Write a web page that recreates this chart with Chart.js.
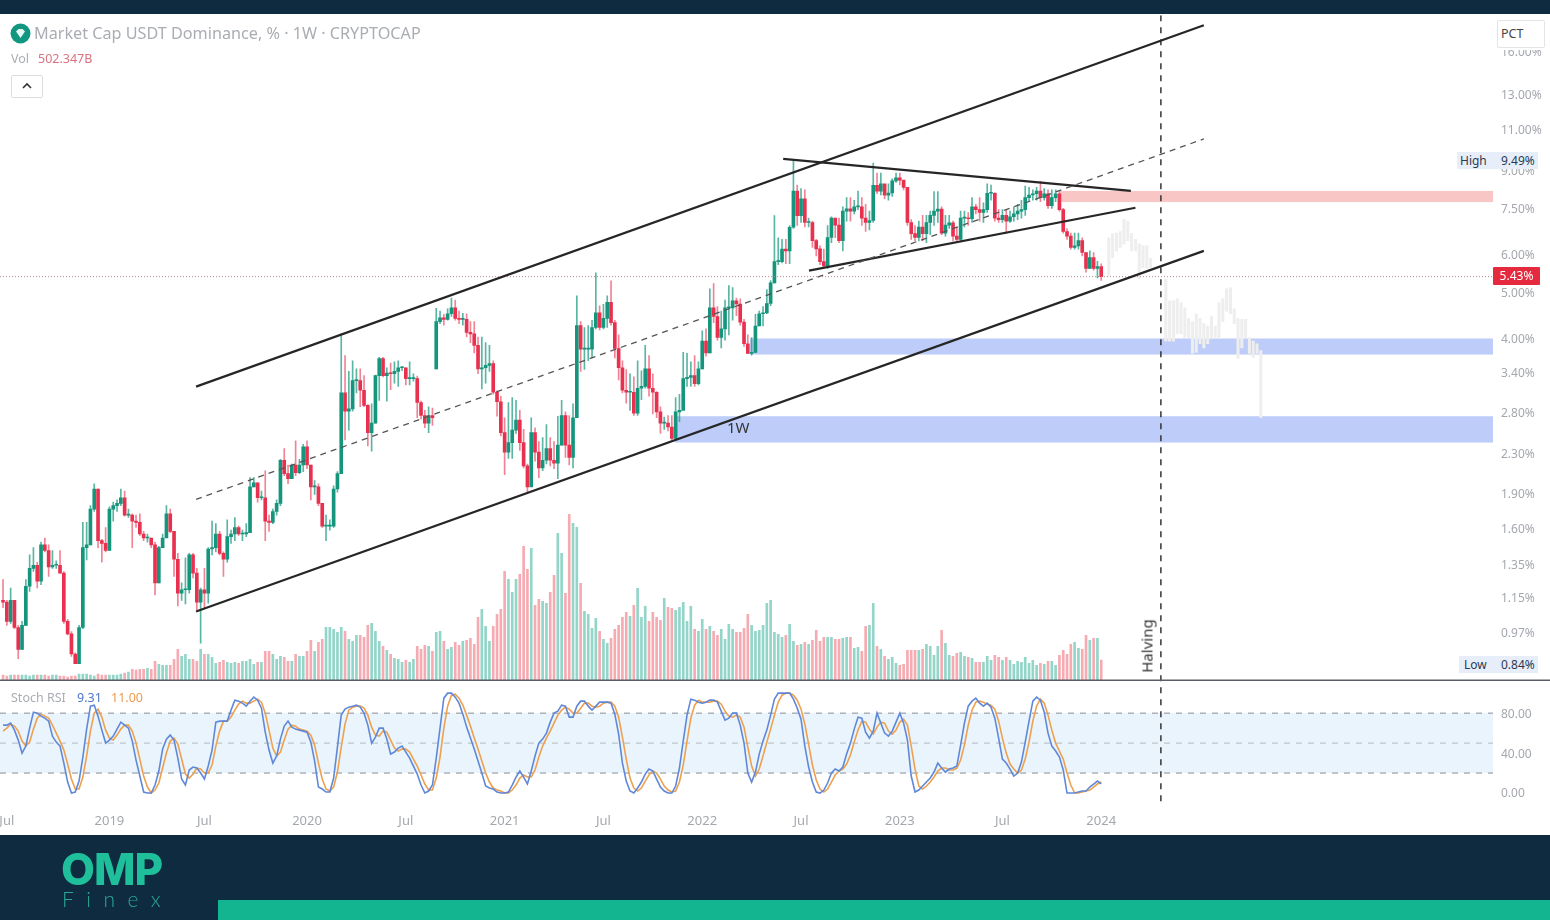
<!DOCTYPE html>
<html>
<head>
<meta charset="utf-8">
<title>Market Cap USDT Dominance</title>
<script src="https://cdn.jsdelivr.net/npm/chart.js@4/dist/chart.umd.min.js"></script>
<style>
    html, body { margin: 0; padding: 0; width: 1550px; height: 920px; overflow: hidden; background: #0f2b40; font-family: "Noto Sans", sans-serif; }
    #panel { position: absolute; left: 0; top: 14px; width: 1550px; height: 821px; background: #fff; }
    #chart { position: absolute; left: 0; top: 0; }
    .txt { position: absolute; white-space: nowrap; line-height: 1; }
    .badge { position: absolute; background: #e7eefa; color: #2b3a50; font-size: 12px; line-height: 17px; height: 17px; }
    .badge span { position: absolute; top: 0; }
</style>
</head>
<body>
<div id="panel"></div>
<canvas id="chart" width="1550" height="920"></canvas>

<!-- legenda -->
<svg style="position:absolute;left:10px;top:23px" width="21" height="21" viewBox="0 0 21 21">
    <circle cx="10.5" cy="10.5" r="10" fill="#11967f"/>
    <path d="M6 8.5 L8.5 6 H12.5 L15 8.5 L10.5 15 Z" fill="#e8f7f3"/>
</svg>
<div class="txt" style="left:34px;top:25px;font-size:16.2px;color:#a9adb3">Market Cap USDT Dominance, % · 1W · CRYPTOCAP</div>
<div class="txt" style="left:11px;top:53px;font-size:12.5px;color:#a9adb3">Vol</div>
<div class="txt" style="left:38px;top:53px;font-size:12.5px;color:#d9747f">502.347B</div>
<div style="position:absolute;left:11px;top:75px;width:30px;height:21px;border:1px solid #ddd;border-radius:2px;background:#fff">
    <svg width="30" height="21" viewBox="0 0 30 21"><path d="M11 12 L15 8 L19 12" fill="none" stroke="#333" stroke-width="1.6"/></svg>
</div>
<div class="txt" style="left:11px;top:692px;font-size:12.5px;color:#a9adb3">Stoch RSI</div>
<div class="txt" style="left:77px;top:692px;font-size:12.5px;color:#4f78c8">9.31</div>
<div class="txt" style="left:111px;top:692px;font-size:12.5px;color:#ee9c4c">11.00</div>

<!-- marcas -->
<div class="txt" style="left:727px;top:420px;font-size:15px;color:#333">1W</div>
<div class="txt" style="left:1147px;top:646px;font-size:15px;color:#333;transform:translate(-50%,-50%) rotate(-90deg)">Halving</div>

<!-- escala -->
<div style="position:absolute;left:1493px;top:14px;width:57px;height:36px;background:#fff"></div>
<div class="txt" style="left:1497px;top:20px;width:46px;height:26px;border:1px solid #e4e4e4;border-radius:2px;font-size:12.5px;line-height:26px;color:#444;text-indent:3px">PCT</div>
<div class="badge" style="left:1457px;top:152px;width:81px"><span style="left:3px">High</span><span style="left:44px">9.49%</span></div>
<div class="badge" style="left:1459px;top:656px;width:79px"><span style="left:5px">Low</span><span style="left:42px">0.84%</span></div>
<div class="txt" style="left:1493px;top:267px;width:47px;height:18px;background:#e5293f;color:#fff;font-size:12px;line-height:18px;text-align:center;border-radius:1px">5.43%</div>

<!-- logo -->
<div class="txt" style="left:61px;top:847px;font-family:Inter,sans-serif;font-weight:800;font-size:44px;letter-spacing:-1px;color:#1fbf9c">OMP</div>
<div class="txt" style="left:62px;top:888px;font-family:Lato,sans-serif;font-weight:300;font-size:21px;letter-spacing:12.5px;color:#2aa893">Finex</div>
<div style="position:absolute;left:218px;top:900px;width:1332px;height:20px;background:#12b58f"></div>

<script>
// Velas semanais, valores em %
const opens = [
    1.14,1.13,1.03,1.14,1.00,0.90,1.01,1.22,1.33,1.35,
    1.25,1.49,1.45,1.34,1.35,1.35,1.30,1.03,0.97,0.88,
    0.84,1.00,1.47,1.49,1.77,1.95,1.52,1.50,1.45,1.77,
    1.80,1.82,1.87,1.72,1.72,1.67,1.66,1.57,1.54,1.54,
    1.49,1.24,1.47,1.54,1.73,1.59,1.39,1.18,1.20,1.20,
    1.42,1.30,1.13,1.20,1.18,1.46,1.47,1.57,1.43,1.39,
    1.55,1.57,1.62,1.57,1.57,1.58,1.97,2.01,1.87,1.87,
    1.67,1.66,1.75,1.82,2.24,2.10,2.05,2.19,2.11,2.19,
    2.39,2.19,1.97,1.97,1.82,1.63,1.63,1.63,1.95,2.10,
    3.10,2.84,2.87,3.29,3.29,3.14,2.92,2.56,2.68,3.37,
    3.66,3.37,3.41,3.40,3.44,3.50,3.50,3.32,3.32,3.32,
    2.96,2.78,2.68,2.78,3.48,4.37,4.45,4.42,4.54,4.67,
    4.44,4.42,4.42,4.15,4.12,3.90,3.48,3.50,3.54,3.57,
    3.11,2.97,2.56,2.33,2.44,2.59,2.72,2.44,2.18,1.97,
    2.56,2.33,2.16,2.24,2.37,2.24,2.21,2.41,2.78,2.41,
    2.27,2.75,4.29,3.83,3.83,3.83,4.25,4.56,4.25,4.44,
    4.80,4.35,3.84,3.50,3.14,3.11,3.11,2.81,3.17,3.20,
    3.48,3.17,3.11,2.83,2.68,2.68,2.63,2.49,2.83,2.85,
    3.32,3.34,3.37,3.24,3.48,3.98,3.76,4.67,4.48,4.05,
    4.22,4.67,4.67,4.83,4.76,4.36,3.93,3.75,3.77,4.28,
    4.54,4.56,4.77,5.27,5.84,5.84,6.20,6.15,6.89,8.20,
    7.29,7.90,7.05,7.05,6.46,6.21,5.84,5.72,6.56,7.20,
    6.96,6.46,7.45,7.53,7.45,7.60,7.60,7.20,7.05,7.12,
    8.44,8.20,8.50,8.04,8.13,8.62,8.75,8.65,8.35,7.05,
    6.68,6.56,6.90,6.68,7.05,7.30,7.45,7.52,6.70,6.96,
    7.04,6.60,6.50,7.20,7.20,7.18,7.60,7.50,7.40,7.50,
    8.12,8.12,7.20,7.15,7.30,7.10,7.25,7.35,7.45,7.50,
    7.95,8.05,8.10,8.20,7.95,8.10,7.65,7.95,8.10,7.50,
    6.75,6.60,6.25,6.30,6.46,6.10,5.65,5.95,5.65,5.70
];
const highs = [
    1.26,1.14,1.21,1.14,1.01,1.03,1.26,1.42,1.47,1.37,
    1.51,1.54,1.49,1.45,1.38,1.45,1.31,1.04,0.98,0.885,
    1.01,1.66,1.66,1.80,2.00,1.95,1.53,1.62,1.79,1.83,
    1.85,1.95,1.93,1.77,1.73,1.72,1.73,1.59,1.57,1.54,
    1.51,1.48,1.57,1.80,1.77,1.59,1.43,1.24,1.40,1.43,
    1.43,1.33,1.21,1.33,1.47,1.67,1.65,1.59,1.44,1.68,
    1.60,1.70,1.63,1.60,1.65,2.06,2.06,2.01,1.93,2.13,
    1.72,1.77,1.85,2.25,2.37,2.19,2.20,2.46,2.25,2.42,
    2.46,2.19,2.03,2.00,1.82,1.72,1.68,1.98,2.12,4.12,
    3.71,3.44,3.62,3.48,3.48,3.37,2.93,2.94,3.38,3.68,
    3.68,3.50,3.58,3.60,3.62,3.52,3.50,3.60,3.40,3.36,
    2.98,2.85,2.90,2.88,4.66,4.60,4.53,4.65,4.90,4.85,
    4.60,4.55,4.54,4.37,4.37,4.06,4.06,3.95,3.90,3.62,
    3.13,3.05,2.75,2.96,3.03,2.99,2.85,2.60,2.20,2.75,
    2.62,2.45,2.50,2.66,2.50,2.45,2.77,2.99,2.83,2.78,
    2.94,4.95,4.37,4.25,4.29,4.40,5.53,4.72,4.75,4.95,
    5.32,4.40,4.10,3.62,3.47,3.40,3.35,3.62,3.45,3.90,
    3.71,3.40,3.12,2.90,2.76,2.78,2.78,3.03,3.08,3.77,
    3.75,3.60,3.71,3.60,4.18,4.22,5.12,5.25,4.70,4.60,
    4.85,5.20,5.15,4.90,4.88,4.42,4.10,4.05,4.53,4.60,
    4.70,5.10,5.33,7.29,6.55,6.50,6.50,6.95,9.49,8.45,
    8.30,8.25,7.20,7.10,6.50,6.30,6.20,6.95,7.25,7.20,
    7.20,7.60,7.95,7.95,7.85,8.20,7.95,7.70,7.45,9.39,
    8.95,8.95,8.40,8.50,8.70,8.95,8.95,8.55,8.35,7.15,
    6.95,7.10,7.30,7.30,7.45,8.18,8.18,7.60,7.30,7.30,
    7.10,6.90,7.45,7.45,7.40,7.95,7.70,7.95,7.75,8.50,
    8.45,8.15,7.50,7.50,7.50,7.45,7.60,7.70,7.85,8.40,
    8.35,8.25,8.35,8.60,8.30,8.25,8.25,8.25,8.20,7.55,
    6.85,6.70,6.70,6.70,6.55,6.10,6.15,6.10,5.85,5.78
];
const lows = [
    1.10,1.01,1.02,0.995,0.86,0.90,1.01,1.19,1.31,1.21,
    1.23,1.44,1.28,1.33,1.33,1.30,1.02,0.965,0.87,0.84,
    0.84,0.995,1.385,1.49,1.75,1.47,1.37,1.44,1.45,1.67,
    1.75,1.80,1.71,1.70,1.47,1.62,1.56,1.52,1.51,1.47,
    1.17,1.24,1.47,1.55,1.58,1.28,1.11,1.14,1.12,1.18,
    1.27,1.09,0.927,1.10,1.125,1.42,1.44,1.42,1.28,1.37,
    1.50,1.52,1.56,1.52,1.55,1.58,1.97,1.83,1.85,1.52,
    1.59,1.65,1.72,1.80,2.08,2.00,2.05,2.08,2.10,2.12,
    2.15,1.85,1.90,1.80,1.62,1.52,1.60,1.62,1.92,2.10,
    2.47,2.59,2.84,3.10,2.90,2.90,2.40,2.34,2.68,2.99,
    3.35,2.98,3.15,3.25,3.20,3.45,3.22,3.22,3.28,2.75,
    2.73,2.62,2.56,2.65,3.48,4.33,4.30,4.40,4.48,4.40,
    4.33,4.30,4.06,3.95,3.76,3.40,3.16,3.25,3.44,3.08,
    2.77,2.52,2.09,2.26,2.26,2.55,2.35,2.16,1.92,2.00,
    2.23,2.06,2.13,2.20,2.18,2.15,2.05,2.41,2.27,2.19,
    2.16,2.75,3.44,3.47,3.62,3.67,4.22,4.20,4.22,4.25,
    4.30,3.67,3.30,3.10,2.95,2.85,2.78,2.78,3.00,3.17,
    3.05,2.80,2.75,2.55,2.60,2.58,2.47,2.49,2.70,2.87,
    3.20,3.20,3.20,3.22,3.48,3.70,3.76,4.35,4.00,3.85,
    4.00,4.10,4.40,4.50,4.30,3.88,3.75,3.72,3.77,4.28,
    4.28,4.54,4.72,5.27,5.75,5.80,5.78,5.78,6.85,6.95,
    7.05,6.90,6.90,6.25,6.00,5.75,5.68,5.65,6.40,6.55,
    6.40,6.15,7.10,7.10,7.35,7.50,6.95,6.75,6.80,7.05,
    8.10,8.05,7.90,7.85,8.00,8.55,8.45,8.25,6.95,6.50,
    6.45,6.45,6.45,6.40,6.65,6.95,7.05,6.65,6.60,6.85,
    6.45,6.45,6.45,6.90,6.95,7.05,7.35,7.10,7.05,7.40,
    7.85,7.10,7.05,7.05,6.70,7.05,7.10,7.15,7.20,7.30,
    7.80,7.85,7.85,7.80,7.85,7.55,7.55,7.80,7.45,6.70,
    6.50,6.20,6.20,6.20,6.00,5.55,5.65,5.60,5.40,5.33
];
const closes = [
    1.13,1.03,1.14,1.00,0.90,1.01,1.22,1.33,1.35,1.25,
    1.49,1.45,1.34,1.35,1.35,1.30,1.03,0.97,0.88,0.84,
    1.00,1.47,1.49,1.77,1.95,1.52,1.50,1.45,1.77,1.80,
    1.82,1.87,1.72,1.72,1.67,1.66,1.57,1.54,1.54,1.49,
    1.24,1.47,1.54,1.73,1.59,1.39,1.18,1.20,1.20,1.42,
    1.30,1.13,1.20,1.18,1.46,1.47,1.57,1.43,1.39,1.55,
    1.57,1.62,1.57,1.57,1.58,1.97,2.01,1.87,1.87,1.67,
    1.66,1.75,1.82,2.24,2.10,2.05,2.19,2.11,2.19,2.39,
    2.19,1.97,1.97,1.82,1.63,1.63,1.63,1.95,2.10,3.10,
    2.84,2.87,3.29,3.29,3.14,2.92,2.56,2.68,3.37,3.66,
    3.37,3.41,3.40,3.44,3.50,3.50,3.32,3.32,3.32,2.96,
    2.78,2.68,2.78,2.75,4.37,4.45,4.42,4.54,4.67,4.44,
    4.42,4.42,4.15,4.12,3.90,3.48,3.50,3.54,3.57,3.11,
    2.97,2.56,2.33,2.44,2.59,2.72,2.44,2.18,1.97,2.56,
    2.33,2.16,2.24,2.37,2.24,2.21,2.41,2.78,2.41,2.27,
    2.75,4.29,3.83,3.83,3.83,4.25,4.56,4.25,4.44,4.80,
    4.35,3.84,3.50,3.14,3.11,3.11,2.81,3.17,3.20,3.48,
    3.17,3.11,2.83,2.68,2.68,2.63,2.49,2.83,2.85,3.32,
    3.34,3.37,3.24,3.48,3.98,3.76,4.67,4.48,4.05,4.22,
    4.67,4.67,4.83,4.76,4.36,3.93,3.75,3.77,4.28,4.54,
    4.56,4.77,5.27,5.84,5.84,6.20,6.15,6.89,8.20,7.29,
    7.90,7.05,7.05,6.46,6.21,5.84,5.72,6.56,7.20,6.96,
    6.46,7.45,7.53,7.45,7.60,7.60,7.20,7.05,7.12,8.44,
    8.20,8.50,8.04,8.13,8.62,8.75,8.65,8.35,7.05,6.68,
    6.56,6.90,6.68,7.05,7.30,7.45,7.52,6.70,6.96,7.04,
    6.60,6.50,7.20,7.20,7.18,7.60,7.50,7.40,7.50,8.12,
    8.12,7.20,7.15,7.30,7.10,7.25,7.35,7.45,7.50,7.95,
    8.05,8.10,8.20,7.95,8.10,7.65,7.95,8.10,7.50,6.75,
    6.60,6.25,6.30,6.46,6.10,5.65,5.95,5.65,5.70,5.43
];

// Volume em bilhões
const volumes = [
    125,100,125,125,125,125,125,100,125,125,
    125,125,100,125,125,100,100,75,100,100,
    150,150,150,125,100,150,125,125,125,125,
    125,150,175,200,275,250,275,275,300,275,
    475,400,375,375,375,525,775,600,650,525,
    525,475,775,650,650,575,425,450,500,450,
    425,450,425,475,475,525,400,450,450,725,
    725,650,525,600,575,475,475,650,600,600,
    725,1000,725,950,1025,1325,1325,1275,1200,1325,
    1225,1025,975,1125,1125,1075,1375,1425,1225,975,
    850,750,650,550,525,450,500,450,525,850,
    775,875,850,725,1200,1225,975,775,825,950,
    875,975,1000,1050,900,1575,1775,1350,975,1350,
    1650,1775,2725,2525,2200,2525,2650,3350,2775,3300,
    1875,2025,1975,1925,2200,2625,3675,3175,2175,4150,
    3925,3825,2425,1725,1650,1300,1550,1225,1025,925,
    1050,1275,1375,1575,1700,1600,1875,2300,1575,1850,
    1475,1700,1575,1500,2050,1825,1800,1750,1825,1950,
    1475,1850,1275,1225,1525,1275,1350,1225,1125,1275,
    1025,1400,1275,1200,1200,1300,1650,1375,1225,1250,
    1375,1925,2000,1200,1150,1075,1125,1400,975,875,
    900,950,900,1000,1250,975,1075,1075,1075,1025,
    1025,1050,1075,1075,800,825,725,1350,1375,1925,
    850,775,600,525,575,425,375,400,750,750,
    750,750,775,900,850,625,850,1250,925,625,
    600,675,700,600,575,550,450,450,450,600,
    500,625,575,500,575,500,400,475,450,575,
    425,500,375,425,400,475,475,375,625,750,
    650,900,950,800,775,1125,1000,1050,1050,502.347
];

// Stoch RSI
const stochK = [
    68,68,70,63,53,40,47,65,81,80,
    77,75,72,57,51,47,30,11,0,1,
    12,36,64,87,88,77,63,50,53,57,
    64,71,68,65,52,33,17,1,0,0,
    8,22,44,54,58,53,35,14,8,23,
    26,25,20,14,27,43,71,72,72,72,
    83,93,92,90,87,92,96,93,85,61,
    43,30,37,54,67,72,66,64,63,62,
    61,51,32,6,4,1,1,15,46,78,
    84,86,87,88,86,80,68,50,56,65,
    65,54,39,41,45,47,41,35,27,19,
    8,0,2,8,35,65,95,100,100,96,
    90,79,66,55,44,32,20,7,5,4,
    1,0,0,1,8,16,22,16,9,22,
    37,50,54,60,71,80,82,88,87,76,
    76,87,92,92,87,83,87,91,91,91,
    90,79,59,30,12,2,0,5,11,19,
    24,22,14,6,2,0,0,7,25,52,
    78,94,93,91,90,91,93,93,91,82,
    73,75,80,80,68,50,20,11,21,39,
    52,63,78,94,100,100,100,100,94,85,
    74,47,26,11,1,0,3,10,20,24,
    22,26,39,50,64,76,75,61,55,62,
    80,70,60,57,62,71,80,70,53,17,
    1,3,7,11,15,21,30,25,21,24,
    25,27,48,70,87,92,95,90,87,90,
    86,75,55,34,30,24,17,20,31,51,
    72,92,96,93,81,60,47,42,36,23,
    0,0,0,1,2,2,6,9,12,9.31
];
const stochD = [
    62,65,69,67,62,52,47,51,64,75,
    79,77,75,68,60,52,43,29,14,4,
    4,16,37,62,80,84,76,63,55,53,
    58,64,68,68,62,50,34,17,6,0,
    3,10,25,40,52,55,49,34,19,15,
    19,25,24,20,20,28,47,62,72,72,
    76,83,89,92,90,90,92,94,91,80,
    63,45,37,41,53,64,68,67,64,63,
    62,58,48,30,14,4,2,6,21,46,
    69,83,86,87,87,85,78,66,58,57,
    62,61,53,45,42,44,44,41,34,27,
    18,9,3,3,15,36,65,87,98,99,
    95,88,78,67,55,44,32,20,11,5,
    3,2,0,0,3,8,15,18,16,16,
    23,36,47,55,62,70,78,83,86,84,
    80,80,85,90,90,87,86,87,90,91,
    91,87,76,56,34,15,5,2,5,12,
    18,22,20,14,7,3,1,2,11,28,
    52,75,88,93,91,91,91,92,92,89,
    82,77,76,78,76,66,46,27,17,24,
    37,51,64,78,91,98,100,100,98,93,
    84,69,49,28,13,4,1,4,11,18,
    22,24,29,38,51,63,72,71,64,59,
    66,71,70,62,59,63,71,74,68,47,
    24,7,4,7,11,16,22,25,25,23,
    23,25,33,48,68,83,91,92,91,89,
    88,84,72,55,40,29,24,20,23,34,
    51,72,87,94,90,78,63,50,42,34,
    20,8,0,0,1,2,3,6,9,11.00
];

// Projeção apagada depois da última vela
const ghostWeeks = [291,292,293,294,295,296,297,298,299,300,301,302,306,307,308,309,310,311,312,313,314,315,316,317,318,319,320,321,322,323,324,325,326,327,328,329,330,331];
const ghostHighs = [6.55,6.68,6.70,6.75,7.17,7.10,6.68,6.50,6.36,6.30,6.30,5.93,5.37,4.83,4.83,4.88,4.79,4.67,4.44,4.37,4.54,4.44,4.33,4.28,4.48,4.28,4.79,4.88,5.12,5.15,4.65,4.44,4.42,4.42,4.05,3.98,3.93,3.80];
const ghostLows = [5.45,5.95,6.15,6.25,6.36,6.46,6.15,6.15,5.37,5.67,5.65,5.67,3.98,3.98,3.98,4.12,4.12,4.05,4.05,3.75,3.77,3.93,3.85,3.93,4.03,4.05,4.03,4.37,4.60,4.54,4.33,3.66,3.85,4.05,3.75,3.68,3.75,2.75];

// Eixos
const priceTicks = [16, 13, 11, 9, 7.5, 6, 5, 4, 3.4, 2.8, 2.3, 1.9, 1.6, 1.35, 1.15, 0.97];
const stochTicks = [80, 40, 0];
const stochLevels = [80, 50, 20];
const timeTickWeeks = [1, 28, 53, 80, 106, 132, 158, 184, 210, 236, 263, 289];
const timeTickLabels = ['Jul', '2019', 'Jul', '2020', 'Jul', '2021', 'Jul', '2022', 'Jul', '2023', 'Jul', '2024'];

// Linhas desenhadas
const channelWeeks = [50.8, 316];
const channelUpper = [3.195, 18.26];
const channelMiddle = [1.855, 10.55];
const channelLower = [1.08, 6.15];
const wedgeTopWeeks = [205.3, 296.8];
const wedgeTopValues = [9.58, 8.21];
const wedgeBottomWeeks = [212.1, 298];
const wedgeBottomValues = [5.59, 7.57];
const halvingWeek = 304.7;
const lastPrice = 5.43;

// Zonas
const zoneStartWeeks = [278.2, 196.6, 176.8];
const zoneTops = [8.21, 4.03, 2.77];
const zoneBottoms = [7.78, 3.73, 2.44];
const zoneColors = ['#f9c6c6', '#bdccf9', '#bdccf9'];

const UP = '#14957c';
const DOWN = '#e8304f';
const WEEK_MIN = -0.8;
const WEEK_MAX = 392.1;
const PRICE_MIN = 0.4249;
const PRICE_MAX = 19.16;

const weeks = closes.map((_, i) => i);
const isUp = i => closes[i] >= opens[i];

function lineSet(xs, ys, axis, color, width, dash, order) {
    return {
        type: 'line',
        data: xs.map((x, i) => ({ x: x, y: ys[i] })),
        yAxisID: axis,
        borderColor: color,
        borderWidth: width,
        borderDash: dash,
        pointRadius: 0,
        tension: 0,
        order: order
    };
}

// Zonas e faixa do Stoch ficam atrás das velas
const backgroundPlugin = {
    id: 'background',
    beforeDatasetsDraw(chart) {
        const { ctx, scales } = chart;
        const right = scales.x.getPixelForValue(WEEK_MAX);
        ctx.save();
        ctx.fillStyle = '#e9f4fc';
        const bandTop = scales.yStoch.getPixelForValue(80);
        ctx.fillRect(0, bandTop, right, scales.yStoch.getPixelForValue(20) - bandTop);
        zoneStartWeeks.forEach((week, i) => {
            const left = scales.x.getPixelForValue(week);
            const top = scales.y.getPixelForValue(zoneTops[i]);
            ctx.fillStyle = zoneColors[i];
            ctx.fillRect(left, top, right - left, scales.y.getPixelForValue(zoneBottoms[i]) - top);
        });
        ctx.restore();
    },
    afterDatasetsDraw(chart) {
        // Separador entre os painéis
        const { ctx, scales } = chart;
        const y = scales.yVolume.getPixelForValue(0);
        ctx.save();
        ctx.strokeStyle = '#5a5f66';
        ctx.lineWidth = 1.5;
        ctx.beginPath();
        ctx.moveTo(0, y);
        ctx.lineTo(chart.width, y);
        ctx.stroke();

        // Rótulos do eixo do Stoch, na mesma coluna do eixo de preço
        ctx.fillStyle = '#a4a8ae';
        ctx.font = '12px "Noto Sans", sans-serif';
        ctx.textAlign = 'left';
        ctx.textBaseline = 'middle';
        stochTicks.forEach(tick => {
            ctx.fillText(tick.toFixed(2), chart.chartArea.right + 8, scales.yStoch.getPixelForValue(tick) + 1);
        });
        ctx.restore();
    }
};

const datasets = [
    lineSet(channelWeeks, channelUpper, 'y', '#262626', 2.2, [], 1),
    lineSet(channelWeeks, channelMiddle, 'y', '#555', 1.3, [6, 5], 1),
    lineSet(channelWeeks, channelLower, 'y', '#262626', 2.2, [], 1),
    lineSet(wedgeTopWeeks, wedgeTopValues, 'y', '#262626', 2.2, [], 1),
    lineSet(wedgeBottomWeeks, wedgeBottomValues, 'y', '#262626', 2.2, [], 1),
    lineSet([halvingWeek, halvingWeek], [PRICE_MAX, PRICE_MIN], 'y', '#333', 1.5, [6, 6], 1),
    lineSet([WEEK_MIN, WEEK_MAX], [lastPrice, lastPrice], 'y', '#b08a8a', 1, [1, 2], 2),
    lineSet(weeks, stochK, 'yStoch', '#5f88d8', 1.6, [], 3),
    lineSet(weeks, stochD, 'yStoch', '#efa04e', 1.6, [], 4),
    lineSet([WEEK_MIN, WEEK_MAX], [stochLevels[0], stochLevels[0]], 'yStoch', '#8b8f96', 1, [6, 6], 5),
    lineSet([WEEK_MIN, WEEK_MAX], [stochLevels[1], stochLevels[1]], 'yStoch', '#b4b9c0', 1, [6, 6], 5),
    lineSet([WEEK_MIN, WEEK_MAX], [stochLevels[2], stochLevels[2]], 'yStoch', '#8b8f96', 1, [6, 6], 5),
    {
        type: 'bar',
        data: weeks.map(i => ({ x: i, y: [opens[i], closes[i]] })),
        yAxisID: 'y',
        backgroundColor: weeks.map(i => isUp(i) ? UP : DOWN),
        barThickness: 3,
        minBarLength: 1,
        order: 6
    },
    {
        type: 'bar',
        data: weeks.map(i => ({ x: i, y: [lows[i], highs[i]] })),
        yAxisID: 'y',
        backgroundColor: weeks.map(i => isUp(i) ? 'rgba(20,149,124,0.7)' : 'rgba(232,48,79,0.6)'),
        barThickness: 1,
        order: 7
    },
    {
        type: 'bar',
        data: weeks.map(i => ({ x: i, y: volumes[i] })),
        yAxisID: 'yVolume',
        backgroundColor: weeks.map(i => isUp(i) ? '#93d5c8' : '#f6abb2'),
        barThickness: 2,
        order: 8
    },
    {
        type: 'bar',
        data: ghostWeeks.map((w, i) => ({ x: w, y: [ghostLows[i], ghostHighs[i]] })),
        yAxisID: 'y',
        backgroundColor: '#eeeeef',
        barThickness: 2.4,
        order: 9
    }
];

new Chart(document.getElementById('chart').getContext('2d'), {
    data: { datasets: datasets },
    plugins: [backgroundPlugin],
    options: {
        responsive: false,
        animation: false,
        layout: { padding: { top: 14, bottom: 85 } },
        datasets: { bar: { grouped: false } },
        plugins: { legend: { display: false }, tooltip: { enabled: false } },
        scales: {
            x: {
                type: 'linear',
                offset: false,
                min: WEEK_MIN,
                max: WEEK_MAX,
                grid: { display: false, drawTicks: false },
                border: { display: false },
                afterBuildTicks: scale => { scale.ticks = timeTickWeeks.map(w => ({ value: w })); },
                afterFit: scale => {
                    scale.height = 30;
                    scale.paddingLeft = 0;
                    scale.paddingRight = 0;
                },
                ticks: {
                    autoSkip: false,
                    maxRotation: 0,
                    padding: 8,
                    color: '#a4a8ae',
                    font: { family: '"Noto Sans", sans-serif', size: 13 },
                    callback: value => timeTickLabels[timeTickWeeks.indexOf(value)]
                }
            },
            y: {
                type: 'logarithmic',
                position: 'right',
                bounds: 'data',
                min: PRICE_MIN,
                max: PRICE_MAX,
                grid: { display: false, drawTicks: false },
                border: { display: false },
                afterBuildTicks: scale => { scale.ticks = priceTicks.map(v => ({ value: v })); },
                afterFit: scale => { scale.width = 57; },
                ticks: {
                    autoSkip: false,
                    padding: 8,
                    color: '#a4a8ae',
                    font: { family: '"Noto Sans", sans-serif', size: 12 },
                    callback: value => value.toFixed(2) + '%'
                }
            },
            yStoch: {
                type: 'linear',
                display: false,
                min: -12,
                max: 779
            },
            yVolume: {
                type: 'linear',
                display: false,
                min: -3125,
                max: 16650
            }
        }
    }
});
</script>
</body>
</html>
